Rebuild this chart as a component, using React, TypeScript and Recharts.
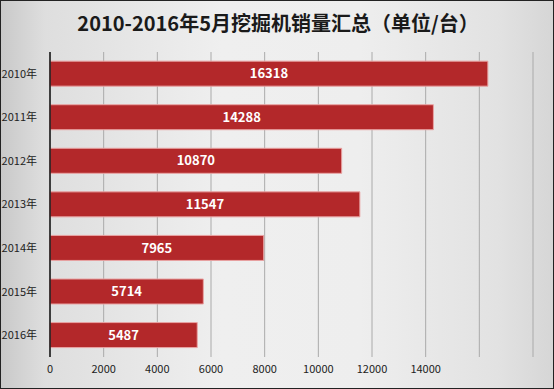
import React from 'react';
import { BarChart, Bar, XAxis, YAxis, CartesianGrid, LabelList } from 'recharts';

const years = ['2010年', '2011年', '2012年', '2013年', '2014年', '2015年', '2016年'];
const sales = [16318, 14288, 10870, 11547, 7965, 5714, 5487];
const xTicks = [0, 2000, 4000, 6000, 8000, 10000, 12000, 14000, 16000, 18000];
const xTickLabels = ['0', '2000', '4000', '6000', '8000', '10000', '12000', '14000', '', ''];
const title = '2010-2016年5月挖掘机销量汇总（单位/台）';

const data = years.map((y, i) => ({ year: y, value: sales[i] }));

const W = 554;
const H = 389;
const FONT = '"Noto Sans CJK SC", "Noto Sans", sans-serif';

export default function App() {
  return (
    <div
      style={{
        position: 'absolute',
        left: 0,
        top: 0,
        width: W,
        height: H,
        boxSizing: 'border-box',
        border: '1px solid #222',
        background:
          'linear-gradient(to right, #c9c9c9 0%, #dedede 8%, #efefef 40%, #eeeeee 65%, #e2e2e2 90%, #d6d6d6 100%)',
        fontFamily: FONT,
        overflow: 'hidden',
      }}
    >
      <div
        style={{
          position: 'absolute',
          left: 0,
          top: 7,
          width: W,
          textAlign: 'center',
          fontSize: 20,
          fontWeight: 700,
          color: '#1a1a1a',
          fontFamily: FONT,
          lineHeight: '30px',
        }}
      >
        {title}
      </div>
      <div style={{ position: 'absolute', left: -1, top: -1 }}>
        <BarChart
          width={W}
          height={H}
          data={data}
          layout="vertical"
          margin={{ top: 52, right: 21, bottom: 7, left: 0 }}
          barCategoryGap="21%"
        >
          <CartesianGrid horizontal={false} stroke="#aaaaaa" strokeWidth={1} />
          <XAxis
            type="number"
            domain={[0, 18000]}
            ticks={xTicks}
            interval={0}
            axisLine={false}
            tickLine={false}
            height={25}
            tickFormatter={(v: number) => xTickLabels[xTicks.indexOf(v)] ?? ''}
            tick={{ fontSize: 11, fill: '#222', fontFamily: FONT }}
          />
          <YAxis
            type="category"
            dataKey="year"
            width={50}
            axisLine={{ stroke: '#111', strokeWidth: 1.5 }}
            tickLine={false}
            tickMargin={7}
            tick={{ fontSize: 11, fill: '#222', fontFamily: FONT }}
          />
          <Bar
            dataKey="value"
            fill="#b3282a"
            stroke="#e9a3a3"
            strokeWidth={1}
            isAnimationActive={false}
          >
            <LabelList
              dataKey="value"
              position="center"
              fill="#ffffff"
              fontSize={13}
              fontWeight={700}
              fontFamily={FONT}
            />
          </Bar>
        </BarChart>
      </div>
    </div>
  );
}
